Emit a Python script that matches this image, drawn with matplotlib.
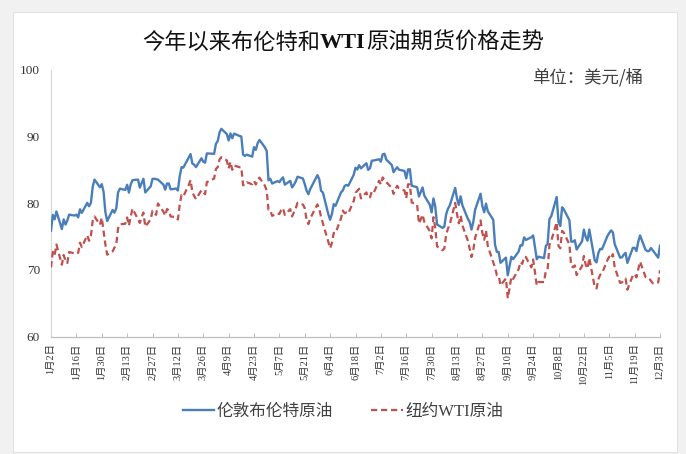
import numpy as np
import pandas as pd
import matplotlib
matplotlib.use("Agg")
import matplotlib.pyplot as plt
from matplotlib.patches import Rectangle

# 交易日（工作日），节假日休市的数值用 None
days = pd.bdate_range("2024-01-02", "2024-12-03")

brent = [
    # 1月
    75.89, 78.25, 77.59, 78.76, 76.12, 77.59, 76.80, 77.41, 78.29, 78.15, 78.29,
    77.88, 79.10, 78.56, 80.06, 79.55, 80.04, 82.43, 83.55, 82.40, 82.87, 81.71,
    # 2月
    78.70, 77.33, 78.99, 78.59, 79.21, 81.63, 82.19, 82.00, 82.77, 81.60, 82.86,
    83.47, 83.56, 82.34, 83.03, 83.67, 81.62, 82.53, 83.65, 83.68, 83.62,
    # 3月
    83.55, 82.80, 82.04, 82.96, 82.96, 82.08, 82.21, 81.92, 84.03, 85.42, 85.34,
    86.89, 87.38, 85.95, 85.78, 85.43, 86.75, 86.25, 86.09, 87.48, None,
    # 4月
    87.42, 88.92, 89.35, 90.65, 91.17, 90.38, 89.42, 90.48, 89.74, 90.45, 90.10,
    90.02, 87.29, 87.11, 87.29, 87.00, 88.42, 88.02, 89.01, 89.50, 88.40, 87.86,
    # 5月
    83.44, 83.67, 82.96, 83.33, 83.16, 83.58, 83.88, 82.79, 83.36, 82.38, 82.75,
    83.27, 83.98, 83.71, 82.88, 81.90, 81.36, 82.12, None, 84.22, 83.60, 81.86, 81.62,
    # 6月
    78.36, 77.52, 78.41, 79.87, 79.62, 81.63, 81.92, 82.60, 82.75, 82.62,
    84.25, 85.33, 85.07, 85.71, 85.24, 86.01, 85.01, 85.25, 86.39, 86.41,
    # 7月
    86.60, 86.24, 87.34, 87.43, 86.54, 85.75, 84.66, 85.08, 85.40, 85.03, 84.85,
    83.73, 85.08, 85.11, 82.63, 82.40, 81.01, 81.71, 82.37, 81.13, 79.78, 78.63, 80.72,
    # 8月
    79.52, 76.81, 76.30, 76.48, 78.33, 79.16, 79.66, 82.30, 80.69, 79.76, 81.04,
    79.68, 77.66, 77.20, 76.05, 77.22, 79.02, 81.43, 79.55, 78.65, 79.94, 78.80,
    # 9月
    77.52, 73.75, 72.70, 72.69, 71.06, 71.84, 69.19, 70.61, 71.97, 71.61, 72.75,
    73.70, 73.65, 74.88, 74.49, 74.90, 75.17, 73.46, 71.60, 71.98, 71.77,
    # 10月
    73.56, 73.90, 77.62, 78.05, 80.93, 77.18, 76.58, 79.40, 79.04, 77.46, 74.25,
    74.22, 74.45, 73.06, 74.29, 76.04, 74.96, 74.38, 76.05, 71.42, 71.12, 72.55, 73.16,
    # 11月
    73.10, 75.08, 75.53, 75.92, 75.63, 73.87, 71.83, 71.89, 72.28, 72.56, 71.04,
    73.30, 73.31, 72.81, 74.23, 75.17, 73.01, 72.81, 72.83, 73.28, 72.94,
    # 12月
    71.83, 73.62,
]

wti = [
    # 1月
    70.38, 72.70, 72.19, 73.81, 70.77, 72.24, 71.37, 71.02, 72.68, None, 72.40,
    72.56, 74.08, 73.41, 75.19, 74.37, 75.09, 77.36, 78.01, 76.78, 77.82, 75.85,
    # 2月
    73.82, 72.28, 72.78, 73.31, 73.86, 76.22, 76.84, 76.92, 77.87, 76.64, 78.03,
    79.19, None, 77.04, 77.91, 78.61, 76.49, 77.58, 78.87, 78.54, 78.26,
    # 3月
    79.97, 78.74, 78.15, 79.13, 78.93, 78.01, 77.93, 77.56, 79.72, 81.26, 81.04,
    82.72, 83.47, 81.68, 81.07, 80.63, 81.95, 81.62, 81.35, 83.17, None,
    # 4月
    83.71, 85.15, 85.43, 86.59, 86.91, 86.43, 85.23, 86.21, 85.02, 85.66, 85.41,
    85.36, 82.69, 82.73, 83.14, 82.85, 83.36, 82.81, 83.57, 83.85, 82.63, 81.93,
    # 5月
    79.00, 78.95, 78.11, 78.48, 78.38, 78.99, 79.26, 78.26, 79.12, 78.02, 78.63,
    79.23, 80.06, 79.80, 79.26, 77.57, 76.87, 77.72, None, 79.83, 79.23, 77.91, 76.99,
    # 6月
    74.22, 73.25, 74.07, 75.55, 75.53, 77.74, 78.90, 78.50, 78.62, 78.45,
    80.33, 81.57, None, 82.17, 80.73, 81.63, 80.83, 80.90, 81.74, 81.54,
    # 7月
    83.38, 82.81, 83.88, None, 83.16, 82.33, 81.41, 82.10, 82.62, 82.21, 81.91,
    80.76, 82.85, 82.82, 80.13, 79.78, 76.96, 77.59, 78.28, 77.16, 75.81, 74.73, 77.91,
    # 8月
    76.31, 73.52, 72.94, 73.20, 75.23, 76.19, 76.84, 80.06, 78.35, 76.98, 78.16,
    76.65, 74.37, 73.17, 71.93, 73.01, 74.83, 77.42, 75.53, 74.52, 75.91, 73.55,
    # 9月
    None, 70.34, 69.20, 69.15, 67.67, 68.71, 65.75, 67.31, 68.97, 68.65, 70.09,
    71.19, 70.91, 71.95, 71.92, 70.37, 71.56, 69.69, 67.67, 68.18, 68.17,
    # 10月
    69.83, 70.10, 73.71, 74.38, 77.14, 73.57, 73.24, 75.85, 75.56, 73.83, 70.58,
    70.39, 70.67, 69.22, 70.56, 72.09, 70.77, 70.19, 71.78, 67.38, 67.21, 68.61, 69.26,
    # 11月
    69.49, 71.47, 71.99, 71.69, 72.36, 70.38, 68.04, 68.12, 68.43, 68.70, 67.02,
    69.16, 69.39, 68.87, 70.10, 71.24, 68.94, 68.77, 68.72, None, 68.00,
    # 12月
    68.10, 69.94,
]

assert len(brent) == len(days) and len(wti) == len(days)

series_names = ["伦敦布伦特原油", "纽约WTI原油"]
tick_dates = pd.date_range("2024-01-02", "2024-12-03", freq="14D")
y_ticks = [60, 70, 80, 90, 100]

cjk = ["Liberation Serif", "Noto Sans CJK SC"]

fig = plt.figure(figsize=(6.86, 4.54), dpi=100)
fig.patch.set_facecolor("#f1f1f1")
W, H = 686, 454
# 白色卡片
fig.patches.append(Rectangle((13 / W, 2 / H), 664 / W, 440 / H, transform=fig.transFigure,
                             facecolor="white", edgecolor="#e2e2e2", lw=0.8, zorder=-10))

ax = fig.add_axes([51 / W, 1 - 336.5 / H, 609 / W, 266.5 / H])
ax.set_facecolor("none")

b = np.array([np.nan if v is None else v for v in brent])
w = np.array([np.nan if v is None else v for v in wti])
mb = ~np.isnan(b)
mw = ~np.isnan(w)
ax.plot(days[mb], b[mb], color="#4a7ebb", lw=1.7, label=series_names[0], zorder=3)
ax.plot(days[mw], w[mw], color="#c0504d", lw=1.6, dashes=(2.8, 1.7), label=series_names[1], zorder=4)

ax.set_xlim(days[0], days[-1])
ax.set_ylim(60, 100)
ax.set_yticks(y_ticks)
ax.set_xticks(tick_dates)
ax.set_xticklabels([f"{d.month}月{d.day}日" for d in tick_dates], rotation=90,
                   fontsize=7.5, family=cjk, color="#333333")
for lab in ax.get_yticklabels():
    lab.set_family("Liberation Serif")
    lab.set_fontsize(9.5)
    lab.set_color("#333333")

ax.tick_params(axis="y", length=0, pad=8)
ax.tick_params(axis="x", direction="in", length=3, width=0.7, color="#bfbfbf", pad=5)
for s in ["top", "right"]:
    ax.spines[s].set_visible(False)
ax.spines["left"].set_color("#d9d9d9")
ax.spines["bottom"].set_color("#bfbfbf")
ax.spines["left"].set_linewidth(0.9)
ax.spines["bottom"].set_linewidth(0.9)

ax.text(0.972, 0.972, "单位：美元/桶", transform=ax.transAxes, ha="right", va="center",
        fontsize=12.5, family=["Noto Sans CJK SC"], color="#404040")

leg = fig.legend(loc="center", bbox_to_anchor=(0.5, 1 - 412 / H), ncol=2, frameon=False,
                 handlelength=1.9, columnspacing=2.3, handletextpad=0.15,
                 prop={"family": cjk, "size": 12})
for t in leg.get_texts():
    t.set_color("#404040")

# 标题：WTI 加粗
fig.canvas.draw()
r = fig.canvas.get_renderer()
parts = [("今年以来布伦特和", "normal"), ("WTI", "bold"), ("原油期货价格走势", "normal")]
objs = []
for s, wt in parts:
    objs.append(fig.text(0, 1 - 43 / H, s, fontsize=16, fontweight=wt, family=cjk,
                         color="#111111", ha="left", va="center"))
widths = [o.get_window_extent(r).width for o in objs]
x0 = (W - sum(widths)) / 2
for o, wd in zip(objs, widths):
    o.set_x(x0 / W)
    x0 += wd

fig.savefig("out.png", dpi=100, facecolor=fig.get_facecolor())
